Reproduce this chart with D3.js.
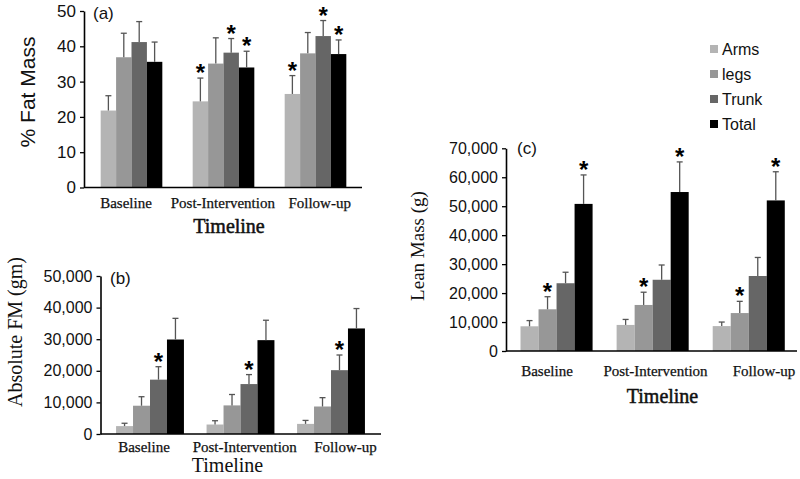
<!DOCTYPE html>
<html>
<head>
<meta charset="utf-8">
<script src="https://cdn.jsdelivr.net/npm/d3@7"></script>
<style>
  html, body { margin: 0; padding: 0; background: #fff; }
  svg { display: block; }
</style>
</head>
<body>
<svg id="chart" width="800" height="479"></svg>
<script>
// ---------- DATA ----------
const categories = ["Baseline", "Post-Intervention", "Follow-up"];
const series = ["Arms", "legs", "Trunk", "Total"];
const seriesColors = ["#b4b4b4", "#979797", "#666666", "#000000"];

// (a) % Fat Mass  [Arms, legs, Trunk, Total] per category
const fatPct     = [[21.8, 36.9, 41.2, 35.6], [24.4, 35.1, 38.2, 34.0], [26.5, 38.0, 42.9, 37.8]];
const fatPctErr  = [[4.2, 6.8, 5.8, 5.6], [6.6, 7.3, 4.0, 4.6], [5.2, 5.9, 4.4, 4.0]];
const fatPctSig  = [[0, 0, 0, 0], [1, 0, 1, 1], [1, 0, 1, 1]];
const fatPctTicks = [0, 10, 20, 30, 40, 50];

// (b) Absolute FM (gm)
const absFM     = [[2500, 8950, 17200, 29900], [3000, 9050, 15800, 29700], [3200, 8700, 20200, 33400]];
const absFMErr  = [[900, 2850, 4100, 6700], [1200, 3450, 3000, 6300], [1100, 2800, 4800, 6300]];
const absFMSig  = [[0, 0, 1, 0], [0, 0, 1, 0], [0, 0, 1, 0]];
const absFMTicks = [0, 10000, 20000, 30000, 40000, 50000];

// (c) Lean Mass (g)
const lean     = [[8530, 14400, 23400, 50800], [9000, 15900, 24600, 54900], [8600, 13100, 25900, 52000]];
const leanErr  = [[1970, 4350, 3800, 10000], [1900, 4400, 5100, 10400], [1400, 4050, 6400, 9900]];
const leanSig  = [[0, 1, 0, 1], [0, 1, 0, 1], [0, 1, 0, 1]];
const leanTicks = [0, 10000, 20000, 30000, 40000, 50000, 60000, 70000];

// ---------- DRAW ----------
const svg = d3.select("#chart");
svg.append("rect").attr("width", 800).attr("height", 479).attr("fill", "#fff");

const SANS = "Arial, 'Liberation Sans', sans-serif";
const SERIF = "'Liberation Serif', 'Times New Roman', serif";

function panel(cfg) {
  const g = svg.append("g");
  const y = d3.scaleLinear().domain(cfg.domain).range([cfg.y0, cfg.y1]);
  const x0 = d3.scaleBand().domain(categories).range(cfg.xRange);
  const groupW = x0.bandwidth() * cfg.groupFrac;
  const x1 = d3.scaleBand().domain(series).range([0, groupW]);
  const off = (x0.bandwidth() - groupW) / 2;

  const rows = [];
  categories.forEach((c, ci) => series.forEach((s, si) => {
    rows.push({ c, s, si, v: cfg.values[ci][si], e: cfg.errs[ci][si], sig: cfg.sig[ci][si] });
  }));
  const bx = d => x0(d.c) + off + x1(d.s);

  g.selectAll("rect.bar").data(rows).join("rect")
    .attr("class", "bar")
    .attr("x", bx)
    .attr("y", d => y(d.v))
    .attr("width", x1.bandwidth())
    .attr("height", d => y(0) - y(d.v))
    .attr("fill", d => seriesColors[d.si]);

  // error bars (upper only)
  const cx = d => bx(d) + x1.bandwidth() / 2;
  g.selectAll("line.err").data(rows).join("line")
    .attr("x1", cx).attr("x2", cx)
    .attr("y1", d => y(d.v)).attr("y2", d => y(d.v + d.e))
    .attr("stroke", "#555").attr("stroke-width", 1.3);
  g.selectAll("line.cap").data(rows).join("line")
    .attr("x1", d => cx(d) - 3).attr("x2", d => cx(d) + 3)
    .attr("y1", d => y(d.v + d.e)).attr("y2", d => y(d.v + d.e))
    .attr("stroke", "#555").attr("stroke-width", 1.3);

  // significance stars
  g.selectAll("text.star").data(rows.filter(d => d.sig)).join("text")
    .attr("x", cx)
    .attr("y", d => y(d.v + d.e) + 3)
    .attr("text-anchor", "middle")
    .attr("font-family", SANS).attr("font-weight", "bold")
    .attr("font-size", 24)
    .text("*");

  // y axis
  const ya = g.append("g")
    .attr("transform", `translate(${cfg.axisX},0)`)
    .call(d3.axisLeft(y).tickValues(cfg.ticks).tickSize(4).tickSizeOuter(0).tickPadding(4)
      .tickFormat(cfg.fmt));
  ya.select(".domain").attr("stroke", "#000").attr("stroke-width", 1.6);
  ya.selectAll(".tick line").attr("stroke", "#000").attr("stroke-width", 1.3);
  ya.selectAll(".tick text").attr("font-family", SANS).attr("font-size", cfg.tickFont).attr("fill", "#111");

  // x axis line
  g.append("line")
    .attr("x1", cfg.axisX).attr("x2", cfg.axisEnd)
    .attr("y1", y(0)).attr("y2", y(0))
    .attr("stroke", "#000").attr("stroke-width", 1.6);

  // category labels
  const xl = d3.scalePoint().domain(categories).range(cfg.labelRange);
  g.selectAll("text.cat").data(categories).join("text")
    .attr("x", d => xl(d)).attr("y", cfg.catY)
    .attr("text-anchor", "middle")
    .attr("font-family", SERIF).attr("font-size", 15).attr("fill", "#111")
    .attr("stroke", "#111").attr("stroke-width", 0.25)
    .text(d => d);

  // x title
  g.append("text")
    .attr("x", cfg.titleX).attr("y", cfg.titleY)
    .attr("text-anchor", "middle")
    .attr("font-family", SERIF).attr("font-size", 20)
    .attr("fill", "#111")
    .attr("stroke", "#111").attr("stroke-width", cfg.titleBold ? 0.5 : 0)
    .text("Timeline");

  // y title
  g.append("text")
    .attr("transform", `translate(${cfg.yLabelX},${cfg.yLabelY}) rotate(-90)`)
    .attr("text-anchor", "middle")
    .attr("font-family", cfg.yLabelFont).attr("font-size", cfg.yLabelSize)
    .attr("fill", "#111")
    .text(cfg.yLabel);

  // panel tag
  g.append("text")
    .attr("x", cfg.tagX).attr("y", cfg.tagY)
    .attr("font-family", SANS).attr("font-size", 17).attr("fill", "#111")
    .text(cfg.tag);
}

const comma = d3.format(",");

panel({
  values: fatPct, errs: fatPctErr, sig: fatPctSig, ticks: fatPctTicks,
  domain: [0, 50], y0: 187.5, y1: 11, xRange: [85.5, 361.5], groupFrac: 0.67,
  axisX: 84, axisEnd: 362, fmt: d3.format("d"), tickFont: 17,
  labelRange: [126, 319.7], catY: 208, titleX: 229, titleY: 233, titleBold: true,
  yLabel: "% Fat Mass", yLabelX: 35, yLabelY: 92, yLabelFont: SANS, yLabelSize: 21,
  tag: "(a)", tagX: 93, tagY: 19
});

panel({
  values: absFM, errs: absFMErr, sig: absFMSig, ticks: absFMTicks,
  domain: [0, 50000], y0: 434, y1: 276, xRange: [104.75, 376.25], groupFrac: 0.75,
  axisX: 100.5, axisEnd: 381, fmt: comma, tickFont: 16,
  labelRange: [144, 345.5], catY: 452, titleX: 227.5, titleY: 472, titleBold: false,
  yLabel: "Absolute FM (gm)", yLabelX: 22, yLabelY: 332, yLabelFont: SERIF, yLabelSize: 20,
  tag: "(b)", tagX: 110, tagY: 284
});

panel({
  values: lean, errs: leanErr, sig: leanSig, ticks: leanTicks,
  domain: [0, 70000], y0: 351, y1: 148.3, xRange: [508.5, 796.8], groupFrac: 0.75,
  axisX: 506, axisEnd: 797, fmt: comma, tickFont: 16,
  labelRange: [547, 764], catY: 376, titleX: 662.5, titleY: 403, titleBold: true,
  yLabel: "Lean Mass (g)", yLabelX: 424, yLabelY: 246, yLabelFont: SERIF, yLabelSize: 19,
  tag: "(c)", tagX: 517, tagY: 154
});

// legend
const lg = svg.append("g").attr("transform", "translate(710,44)");
const li = lg.selectAll("g").data(series).join("g")
  .attr("transform", (d, i) => `translate(0,${i * 25})`);
li.append("rect").attr("width", 8).attr("height", 8).attr("y", 1)
  .attr("fill", (d, i) => seriesColors[i]);
li.append("text").attr("x", 12).attr("y", 10.5)
  .attr("font-family", SANS).attr("font-size", 16).attr("fill", "#111")
  .text(d => d);
</script>
</body>
</html>
